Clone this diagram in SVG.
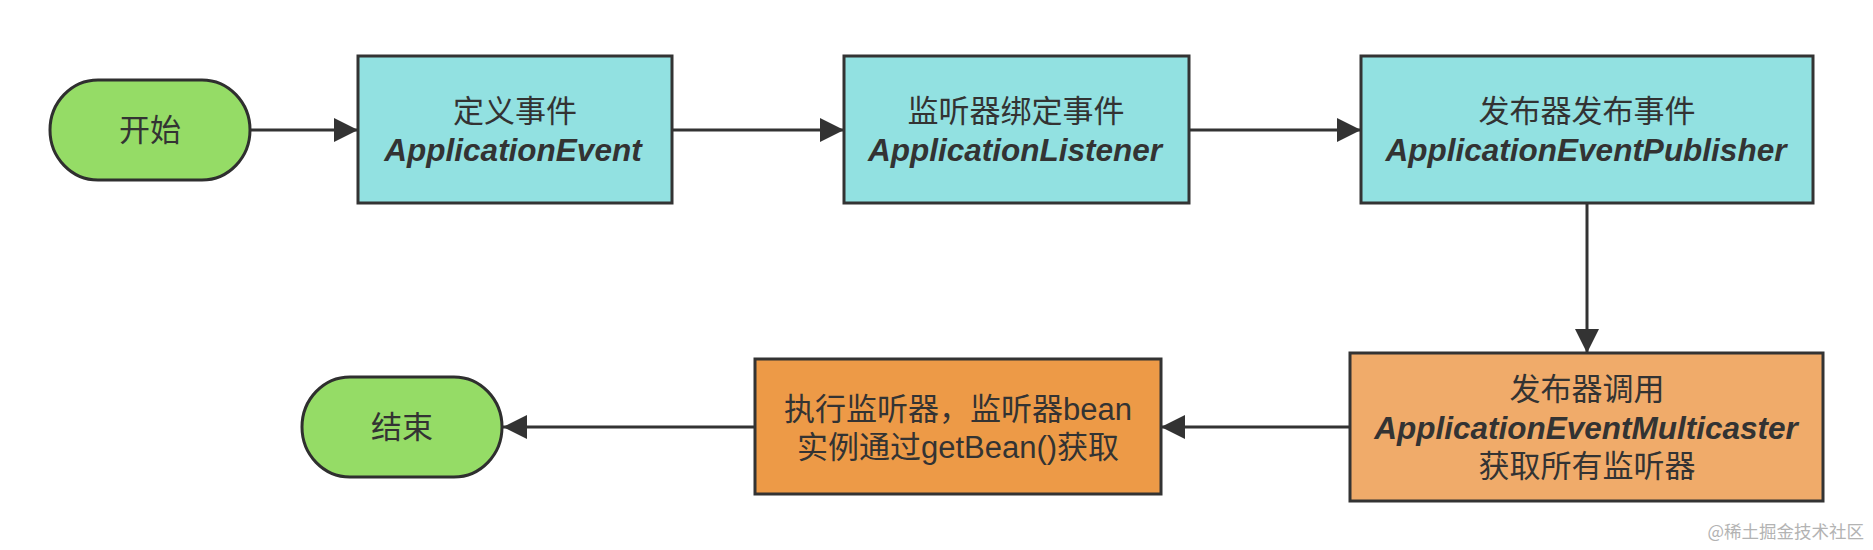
<svg xmlns="http://www.w3.org/2000/svg" width="1873" height="550" viewBox="0 0 1873 550">
<style>
.bg{fill:#ffffff}
.term{fill:#95DC66;stroke:#2f2f2f;stroke-width:3}
.cyan{fill:#92E1E1;stroke:#333333;stroke-width:3}
.org1{fill:#F0AB6A;stroke:#333333;stroke-width:3}
.org2{fill:#ED9A47;stroke:#333333;stroke-width:3}
.cn{font-family:"Liberation Sans","Noto Sans CJK SC",sans-serif;font-size:31px;fill:#333333;text-anchor:middle}
.en{font-family:"Liberation Sans",Arial,sans-serif;font-size:31.5px;font-weight:bold;font-style:italic;fill:#333333;text-anchor:middle}
.conn{stroke:#333333;stroke-width:3;fill:none}
.wm{font-family:"Noto Sans CJK SC",sans-serif;font-size:17.5px;fill:#b3b3b3;text-anchor:end}
</style>
<defs>
<marker id="arr" markerUnits="userSpaceOnUse" markerWidth="24" markerHeight="24" viewBox="0 0 22 22" refX="22" refY="11" orient="auto">
<path d="M0,0 L22,11 L0,22 z" fill="#333333"/>
</marker>
</defs>
<rect class="bg" x="0" y="0" width="1873" height="550"/>
<g id="connectors">
<line class="conn" x1="250" y1="130" x2="358" y2="130" marker-end="url(#arr)"/>
<line class="conn" x1="672" y1="130" x2="844" y2="130" marker-end="url(#arr)"/>
<line class="conn" x1="1189" y1="130" x2="1361" y2="130" marker-end="url(#arr)"/>
<line class="conn" x1="1587" y1="203" x2="1587" y2="353" marker-end="url(#arr)"/>
<line class="conn" x1="1350" y1="427" x2="1161" y2="427" marker-end="url(#arr)"/>
<line class="conn" x1="755" y1="427" x2="503" y2="427" marker-end="url(#arr)"/>
</g>
<g id="start">
<rect class="term" x="50" y="80" width="200" height="100" rx="48" ry="50"/>
<text class="cn" x="150" y="141">开始</text>
</g>
<g id="define-event">
<rect class="cyan" x="358" y="56" width="314" height="147"/>
<text class="cn" x="515" y="122">定义事件</text>
<text class="en" x="513" y="161">ApplicationEvent</text>
</g>
<g id="listener-bind">
<rect class="cyan" x="844" y="56" width="345" height="147"/>
<text class="cn" x="1016" y="122">监听器绑定事件</text>
<text class="en" x="1015" y="161">ApplicationListener</text>
</g>
<g id="publisher">
<rect class="cyan" x="1361" y="56" width="452" height="147"/>
<text class="cn" x="1587" y="122">发布器发布事件</text>
<text class="en" x="1586" y="161">ApplicationEventPublisher</text>
</g>
<g id="multicaster">
<rect class="org1" x="1350" y="353" width="473" height="148"/>
<text class="cn" x="1587" y="400">发布器调用</text>
<text class="en" x="1586" y="439">ApplicationEventMulticaster</text>
<text class="cn" x="1587" y="477">获取所有监听器</text>
</g>
<g id="execute">
<rect class="org2" x="755" y="359" width="406" height="135"/>
<text class="cn" x="958" y="420">执行监听器，监听器bean</text>
<text class="cn" x="958" y="458">实例通过getBean()获取</text>
</g>
<g id="end">
<rect class="term" x="302" y="377" width="200" height="100" rx="48" ry="50"/>
<text class="cn" x="402" y="438">结束</text>
</g>
<text class="wm" x="1864" y="538">@稀土掘金技术社区</text>
</svg>
